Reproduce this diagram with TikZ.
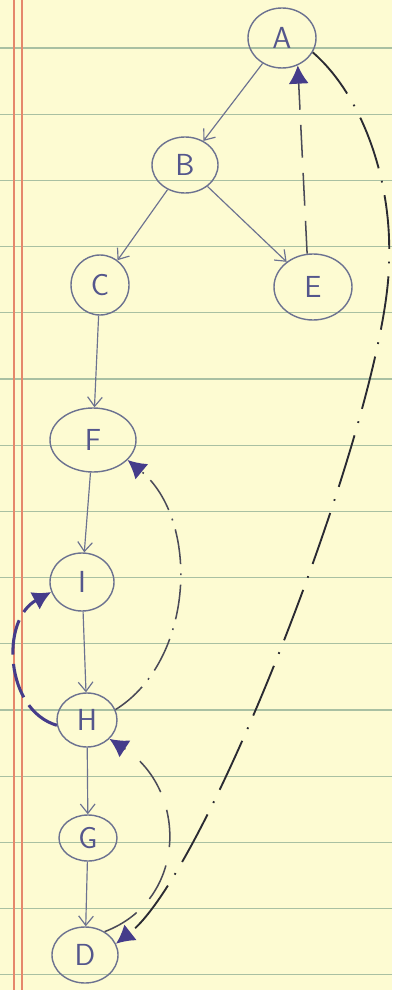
\documentclass[tikz,border=0pt]{standalone}
\usepackage{xcolor}
\usepackage{tikz}
\usetikzlibrary{arrows.meta,shapes.geometric}
\definecolor{paperyellow}{HTML}{FDFBD2}
\definecolor{rulegreen}{HTML}{A9C0A2}
\definecolor{marginred}{HTML}{E5876C}
\definecolor{pencilblue}{HTML}{6C7290}
\definecolor{inkblue}{HTML}{54568C}
\definecolor{dashgray}{HTML}{4A4A58}
\definecolor{penblack}{HTML}{2A2A32}
\definecolor{arrownavy}{HTML}{453C8A}

\tikzset{
  vertex/.style={draw=pencilblue, ellipse, line width=1.2pt, inner sep=0pt,
    text=inkblue, font=\sffamily\fontsize{26}{30}\selectfont},
  treeedge/.style={pencilblue, line width=1pt,
    -{Straight Barb[length=2.8mm,width=4.4mm]}},
  backedge/.style={dashgray, line width=1.3pt,
    -{Latex[length=5.5mm,width=6mm,color=arrownavy]}}
}

\begin{document}
\begin{tikzpicture}[x=0.03cm,y=-0.03cm]
    \fill[paperyellow] (0,0) rectangle (392,990);
    \useasboundingbox (0,0) rectangle (392,990);

    % lined paper
    \foreach \k in {0,...,14} {
        \draw[rulegreen, line width=0.9pt] (0,{48+66.2*\k}) -- (392,{48+66.2*\k});
    }
    \draw[marginred, line width=1.1pt] (14,0) -- (14,990);
    \draw[marginred, line width=1.1pt] (22,0) -- (22,990);

    \node[vertex, minimum width=2.04cm, minimum height=1.8cm] (A) at (282,38) {A};
    \node[vertex, minimum width=1.98cm, minimum height=1.68cm] (B) at (185,165) {B};
    \node[vertex, minimum width=1.74cm, minimum height=1.8cm] (C) at (100,285) {C};
    \node[vertex, minimum width=2.34cm, minimum height=1.98cm] (E) at (313,287) {E};
    \node[vertex, minimum width=2.58cm, minimum height=1.92cm] (F) at (93,440) {F};
    \node[vertex, minimum width=1.92cm, minimum height=1.74cm] (I) at (82,582) {I};
    \node[vertex, minimum width=1.8cm, minimum height=1.62cm] (H) at (87,720) {H};
    \node[vertex, minimum width=1.74cm, minimum height=1.38cm] (G) at (88,838) {G};
    \node[vertex, minimum width=1.98cm, minimum height=1.68cm] (D) at (85,955) {D};

    \draw[treeedge] (A) -- (B);
    \draw[treeedge] (B) -- (C);
    \draw[treeedge] (B) -- (E);
    \draw[treeedge] (C) -- (F);
    \draw[treeedge] (F) -- (I);
    \draw[treeedge] (I) -- (H);
    \draw[treeedge] (H) -- (G);
    \draw[treeedge] (G) -- (D);

    % back edges
    \draw[backedge, dash pattern=on 28pt off 13pt] (E.100) -- (A.-60);
    \draw[backedge, penblack, line width=1.6pt, dash pattern=on 46pt off 11pt on 1.5pt off 11pt]
        (A.-25) .. controls (362,95) and (392,180) .. (389,260)
        .. controls (390,400) and (210,870) .. (D.20);
    \draw[backedge, dash pattern=on 30pt off 8pt on 1.5pt off 8pt]
        (H.20) .. controls (195,660) and (200,520) .. (F.-30);
    \draw[backedge, dash pattern=on 32pt off 16pt]
        (D.50) .. controls (188,900) and (188,790) .. (H.-40);
    \draw[backedge, arrownavy, line width=2.6pt, dash pattern=on 30pt off 8pt]
        (H.190) .. controls (5,710) and (0,620) .. (I.198);
\end{tikzpicture}
\end{document}
